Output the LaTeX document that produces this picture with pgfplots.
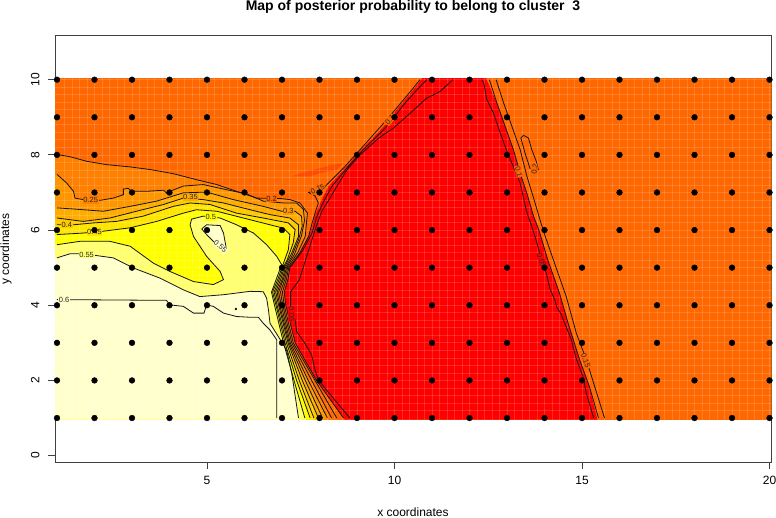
\documentclass[border=0pt]{standalone}
\usepackage{pgfplots}
\pgfplotsset{compat=1.18}
\usepackage{pgfplotstable}
\usepackage{fontspec}
\setmainfont{Liberation Sans}
\definecolor{bOrange}{HTML}{FF6800}
\definecolor{bRed}{HTML}{FF0000}
\definecolor{bPatch}{HTML}{FF4C00}
\definecolor{b20}{HTML}{FF8000}
\definecolor{b25}{HTML}{FF9600}
\definecolor{b30}{HTML}{FFAC00}
\definecolor{b35}{HTML}{FFC800}
\definecolor{b40}{HTML}{FFE400}
\definecolor{b45}{HTML}{FFFF00}
\definecolor{b50}{HTML}{FFFF70}
\definecolor{b55}{HTML}{FFFFCC}

\pgfplotstableread{
1 8.01
1.35 7.95
1.79 7.83
2.32 7.74
2.95 7.68
3.48 7.61
4.10 7.50
4.72 7.34
5.26 7.21
5.79 7.03
6.32 6.85
6.95 6.84
7.21 6.81
7.48 6.72
7.68 6.45
7.66 6.27
7.62 5.83
7.42 5.4
7.15 5
7.08 4.7
6.96 4.35
7.02 4
7.26 3
7.79 2
8.32 1
}\Ctwenty
\pgfplotstableread{
1 7.48
1.26 7.25
1.44 7.03
1.48 6.85
1.70 6.81
2.15 6.79
2.50 6.85
2.77 6.94
2.77 7.09
2.90 7.11
2.99 7.03
3.39 7.03
3.84 7.06
3.97 6.94
4.01 7.03
4.37 7.17
4.90 7.21
5.44 7.09
6.06 6.96
6.50 6.77
7.04 6.72
7.39 6.72
7.57 6.55
7.6 6.25
7.52 5.85
7.33 5.35
7.12 5
7.04 4.7
6.91 4.35
6.98 4
7.22 3
7.70 2
8.21 1
}\Ctwentyfive
\pgfplotstableread{
1 6.59
1.44 6.56
2.24 6.50
2.95 6.63
3.66 6.77
4.37 6.99
4.99 7.01
5.70 6.81
6.50 6.63
6.99 6.50
7.35 6.50
7.52 6.37
7.54 6.10
7.44 5.74
7.26 5.30
7.09 5
7.01 4.7
6.87 4.35
6.94 4
7.19 3
7.62 2
8.08 1
}\Cthirty
\pgfplotstableread{
1 6.32
1.70 6.23
2.41 6.32
3.12 6.50
3.84 6.68
4.37 6.85
4.90 6.81
5.44 6.72
6.15 6.54
6.68 6.41
7.21 6.32
7.44 6.14
7.44 5.83
7.26 5.39
7.06 5
6.97 4.7
6.83 4.35
6.91 4
7.16 3
7.54 2
7.97 1
}\Cthirtyfive
\pgfplotstableread{
1 6.14
1.44 6.14
1.97 6.19
2.59 6.23
3.30 6.37
4.10 6.63
4.55 6.72
5.08 6.68
5.79 6.45
6.50 6.32
7.17 6.19
7.35 6.01
7.30 5.66
7.14 5.21
7.03 5
6.93 4.7
6.79 4.35
6.87 4
7.12 3
7.46 2
7.85 1
}\Cforty
\pgfplotstableread{
1 5.88
1.70 5.92
2.24 5.97
2.95 6.06
3.66 6.23
4.37 6.45
4.72 6.54
5.26 6.50
5.97 6.32
6.68 6.14
7.04 6.05
7.21 5.88
7.17 5.48
7.04 5.12
6.90 4.72
6.75 4.35
6.84 4
7.08 3
7.39 2
7.75 1
}\Cfortyfive
\pgfplotstableread{
1 5.61
1.61 5.70
2.41 5.70
2.95 5.57
3.57 5.12
4.01 4.90
4.64 4.63
5.17 4.55
5.44 4.68
5.35 4.90
4.99 5.30
4.64 5.83
4.55 6.14
4.59 6.29
4.90 6.37
5.35 6.32
5.79 6.14
6.24 5.92
6.59 5.61
6.86 5.30
6.99 5.08
6.85 4.7
6.72 4.35
6.80 4
7.04 3
7.32 2
7.61 1
}\Cfifty
\pgfplotstableread{
1 5.26
1.35 5.37
1.70 5.37
2.50 5.26
3.04 4.99
3.75 4.72
4.37 4.41
4.81 4.23
5.44 4.28
6.15 4.37
6.50 4.36
6.59 4.19
6.64 3.87
6.68 3.52
6.90 3.17
7.12 2.81
7.26 2.19
7.44 1
}\Cfiftyfive
\pgfplotstableread{
4.86 6.03
4.99 6.14
5.35 6.12
5.44 5.92
5.52 5.48
5.26 5.61
4.99 5.88
4.86 6.03
}\Cloop
\pgfplotstableread{
1 4.15
3.92 4.13
4.01 4.01
4.37 3.97
4.64 3.79
4.92 3.79
4.99 4.01
5.17 3.97
5.44 3.79
5.79 3.70
6.15 3.68
6.37 3.68
6.50 3.52
6.68 3.34
6.86 3.08
6.86 1
}\Csixty
\pgfplotstableread{
10.68 10
10.46 9.73
10.06 9.25
9.80 8.94
9.44 8.54
9.04 8.09
8.64 7.65
8.15 7.16
7.93 7.09
7.71 7
7.88 6.91
7.97 6.72
7.91 6.54
7.80 6.18
7.71 5.83
7.48 5.4
7.18 5
7.12 4.7
7.01 4.35
7.06 4
7.30 3
7.88 2
8.46 1
}\Cfifteen
\pgfplotstableread{
10.86 10
10.60 9.73
10.24 9.33
9.88 8.85
9.62 8.58
9.17 8.14
8.73 7.65
8.33 7.16
8.11 6.76
7.93 6.36
7.80 5.92
7.55 5.45
7.21 5
7.16 4.7
7.06 4.35
7.10 4
7.35 3
7.92 2
8.64 1
}\Cten
\pgfplotstableread{
11.56 10
11.22 9.69
10.86 9.51
10.42 9.11
9.97 8.71
9.71 8.54
9.53 8.40
9.08 8.0
8.73 7.60
8.46 7.16
8.28 6.85
8.06 6.50
7.88 6.0
7.7 5.43
7.46 4.67
7.23 4.36
7.23 3.96
7.35 3.61
7.39 3.30
7.61 2.99
7.79 2.68
7.88 2.28
7.97 2.01
8.39 1.5
8.81 1
}\Cfive
\pgfplotstableread{
12.33 10
12.39 9.87
12.46 9.47
12.64 9.11
12.82 8.58
13 8.09
13.17 7.69
13.35 7.25
13.52 6.5
13.69 6
13.80 5.65
13.92 5.2
14.05 4.85
14.14 4.45
14.27 4.15
14.33 3.94
14.44 3.77
14.58 3.42
14.71 3.1
14.84 2.6
15.02 2.12
15.11 1.68
15.31 1
}\Rfive
\pgfplotstableread{
12.53 10
12.73 9.38
12.95 8.76
13.17 8.14
13.35 7.52
13.53 6.98
13.71 6.36
13.85 6
14.09 5.20
14.40 4.32
14.63 3.52
14.94 2.54
15.20 1.83
15.44 1
}\Rten
\pgfplotstableread{
12.71 10
12.91 9.38
13.13 8.76
13.35 8.14
13.53 7.43
13.71 6.85
13.88 6.27
14.02 5.83
14.27 5.11
14.58 4.23
14.85 3.25
15.12 2.54
15.34 1.83
15.60 1
}\Rfifteen
\pgfplotstableread{
13.62 7.62
13.48 8.05
13.37 8.45
13.44 8.52
13.57 8.45
13.66 8.14
13.78 7.83
13.84 7.6
}\Rtwenty
\pgfplotstableread{
10.74 10.04
10.50 9.73
10.12 9.28
9.84 8.90
9.53 8.56
9.10 8.12
8.68 7.65
8.24 7.16
8.04 6.76
7.87 6.36
7.75 5.92
7.50 5.45
7.21 5
7.16 4.7
7.06 4.35
7.10 4
7.35 3
7.92 2
8.64 1
8.68 0.96
15.42 0.96
15.40 1
15.20 1.83
14.94 2.54
14.63 3.52
14.40 4.32
14.09 5.20
13.85 6
13.71 6.36
13.53 6.98
13.35 7.52
13.17 8.14
12.95 8.76
12.73 9.38
12.44 10.04
}\Cred
\pgfplotstableread{
8.33 7.74
8.64 7.77
8.46 7.60
8.02 7.51
7.75 7.43
7.29 7.43
7.47 7.51
8.02 7.65
}\Cpatch
\pgfplotstableread{
1 1
1 2
1 3
1 4
1 5
1 6
1 7
1 8
1 9
1 10
2 1
2 2
2 3
2 4
2 5
2 6
2 7
2 8
2 9
2 10
3 1
3 2
3 3
3 4
3 5
3 6
3 7
3 8
3 9
3 10
4 1
4 2
4 3
4 4
4 5
4 6
4 7
4 8
4 9
4 10
5 1
5 2
5 3
5 4
5 5
5 6
5 7
5 8
5 9
5 10
6 1
6 2
6 3
6 4
6 5
6 6
6 7
6 8
6 9
6 10
7 1
7 2
7 3
7 4
7 5
7 6
7 7
7 8
7 9
7 10
8 1
8 2
8 3
8 4
8 5
8 6
8 7
8 8
8 9
8 10
9 1
9 2
9 3
9 4
9 5
9 6
9 7
9 8
9 9
9 10
10 1
10 2
10 3
10 4
10 5
10 6
10 7
10 8
10 9
10 10
11 1
11 2
11 3
11 4
11 5
11 6
11 7
11 8
11 9
11 10
12 1
12 2
12 3
12 4
12 5
12 6
12 7
12 8
12 9
12 10
13 1
13 2
13 3
13 4
13 5
13 6
13 7
13 8
13 9
13 10
14 1
14 2
14 3
14 4
14 5
14 6
14 7
14 8
14 9
14 10
15 1
15 2
15 3
15 4
15 5
15 6
15 7
15 8
15 9
15 10
16 1
16 2
16 3
16 4
16 5
16 6
16 7
16 8
16 9
16 10
17 1
17 2
17 3
17 4
17 5
17 6
17 7
17 8
17 9
17 10
18 1
18 2
18 3
18 4
18 5
18 6
18 7
18 8
18 9
18 10
19 1
19 2
19 3
19 4
19 5
19 6
19 7
19 8
19 9
19 10
20 1
20 2
20 3
20 4
20 5
20 6
20 7
20 8
20 9
20 10
}\Cdots

\pgfplotsset{
  lvl/.style={draw=none,mark=none,forget plot},
  ctr/.style={draw=black!92,line width=0.8bp,mark=none,forget plot}
}
\tikzset{
  lab/.style={font=\fontsize{7.5bp}{8bp}\selectfont,inner sep=0.6bp,text=black!85}
}

\begin{document}
\begin{tikzpicture}
\path[use as bounding box] (0,0) rectangle (776bp,518bp);
\begin{axis}[
  at={(55bp,56bp)},anchor=south west,
  scale only axis,width=716.5bp,height=426.3bp,
  xmin=0.947,xmax=20.053,ymin=-0.17,ymax=11.17,
  xtick={5,10,15,20},ytick={0,2,4,6,8,10},
  tick align=outside,major tick length=7bp,
  xtick pos=bottom,ytick pos=left,
  axis line style={draw=black!75,line width=0.9bp},
  tick style={draw=black!75,line width=0.9bp},
  tick label style={font=\fontsize{12bp}{14bp}\selectfont},
  /pgf/number format/assume math mode=true,
  xticklabel style={yshift=-4bp},
  yticklabel style={rotate=90,anchor=south,yshift=5bp},
]
% image background and filled bands
\addplot[lvl,fill=bOrange] coordinates {(0.9,0.96) (20.1,0.96) (20.1,10.04) (0.9,10.04)} -- cycle;
\addplot[lvl,fill=bPatch] table {\Cpatch} -- cycle;
\addplot[lvl,fill=bRed] table {\Cred} -- cycle;
\addplot[lvl,fill=b20] table {\Ctwenty} -- (axis cs:8.36,0.96) -- (axis cs:0.9,0.96) -- (axis cs:0.9,8.01) -- cycle;
\addplot[lvl,fill=b25] table {\Ctwentyfive} -- (axis cs:8.25,0.96) -- (axis cs:0.9,0.96) -- (axis cs:0.9,7.48) -- cycle;
\addplot[lvl,fill=b30] table {\Cthirty} -- (axis cs:8.12,0.96) -- (axis cs:0.9,0.96) -- (axis cs:0.9,6.59) -- cycle;
\addplot[lvl,fill=b35] table {\Cthirtyfive} -- (axis cs:8.01,0.96) -- (axis cs:0.9,0.96) -- (axis cs:0.9,6.32) -- cycle;
\addplot[lvl,fill=b40] table {\Cforty} -- (axis cs:7.89,0.96) -- (axis cs:0.9,0.96) -- (axis cs:0.9,6.14) -- cycle;
\addplot[lvl,fill=b45] table {\Cfortyfive} -- (axis cs:7.79,0.96) -- (axis cs:0.9,0.96) -- (axis cs:0.9,5.88) -- cycle;
\addplot[lvl,fill=b50] table {\Cfifty} -- (axis cs:7.65,0.96) -- (axis cs:0.9,0.96) -- (axis cs:0.9,5.61) -- cycle;
\addplot[lvl,fill=b55] table {\Cfiftyfive} -- (axis cs:7.45,0.96) -- (axis cs:0.9,0.96) -- (axis cs:0.9,5.26) -- cycle;
\addplot[lvl,fill=b55] table {\Cloop} -- cycle;
% faint cell seams of the image
\pgfplotsforeachungrouped \v in {1.2,1.4,...,19.9} {
  \edef\temp{\noexpand\draw[white,opacity=0.15,line width=0.7bp] (axis cs:\v,0.96) -- (axis cs:\v,10.04);}\temp
}
\pgfplotsforeachungrouped \v in {1.2,1.4,...,10} {
  \edef\temp{\noexpand\draw[white,opacity=0.15,line width=0.7bp] (axis cs:0.9,\v) -- (axis cs:20.1,\v);}\temp
}
% contour lines
\addplot[ctr] table {\Ctwenty};
\addplot[ctr] table {\Ctwentyfive};
\addplot[ctr] table {\Cthirty};
\addplot[ctr] table {\Cthirtyfive};
\addplot[ctr] table {\Cforty};
\addplot[ctr] table {\Cfortyfive};
\addplot[ctr] table {\Cfifty};
\addplot[ctr] table {\Cfiftyfive};
\addplot[ctr] table {\Cloop};
\addplot[ctr] table {\Csixty};
\addplot[ctr] table {\Cfifteen};
\addplot[ctr] table {\Cten};
\addplot[ctr] table {\Cfive};
\addplot[ctr] table {\Rfive};
\addplot[ctr] table {\Rten};
\addplot[ctr] table {\Rfifteen};
\addplot[ctr] table {\Rtwenty};
% contour labels
\node[lab,fill=b20] at (axis cs:1.90,6.79) {0.25};
\node[lab,fill=bOrange] at (axis cs:6.72,6.84) {0.2};
\node[lab,fill=b25] at (axis cs:7.17,6.50) {0.3};
\node[lab,fill=b30] at (axis cs:4.56,6.87) {0.35};
\node[lab,fill=b35] at (axis cs:1.26,6.13) {0.4};
\node[lab,fill=b40] at (axis cs:2.0,5.94) {0.45};
\node[lab,fill=b45] at (axis cs:5.10,6.34) {0.5};
\node[lab,fill=b50] at (axis cs:1.79,5.35) {0.55};
\node[lab,fill=b55,rotate=-40] at (axis cs:5.36,5.56) {0.55};
\node[lab,fill=b55] at (axis cs:1.19,4.15) {0.6};
\node[lab,fill=bRed,rotate=-90] at (axis cs:7.26,3.76) {0.05};
\node[lab,fill=bOrange,rotate=25] at (axis cs:7.95,7.09) {0.15};
\node[lab,fill=bOrange,rotate=50] at (axis cs:9.88,8.93) {0.1};
\node[lab,fill=bOrange,rotate=-75] at (axis cs:13.31,7.56) {0.1};
\node[lab,fill=bOrange,rotate=-70] at (axis cs:15.10,2.52) {0.15};
\node[lab,fill=bRed,rotate=-70] at (axis cs:13.92,5.2) {0.05};
\node[lab,fill=bOrange,rotate=80] at (axis cs:13.74,7.62) {0.2};
% data points
\addplot[only marks,mark=*,mark size=2.9bp,black,forget plot] table {\Cdots};
\addplot[only marks,mark=*,mark size=1bp,black,forget plot] coordinates {(5.77,3.9)};
\end{axis}
\node[font=\bfseries\fontsize{14bp}{16bp}\selectfont] at (413bp,511bp) {Map of posterior probability to belong to cluster\ \ 3};
\node[font=\fontsize{12bp}{14bp}\selectfont] at (413bp,6bp) {x coordinates};
\node[font=\fontsize{12bp}{14bp}\selectfont,rotate=90] at (6bp,269bp) {y coordinates};
\end{tikzpicture}
\end{document}
